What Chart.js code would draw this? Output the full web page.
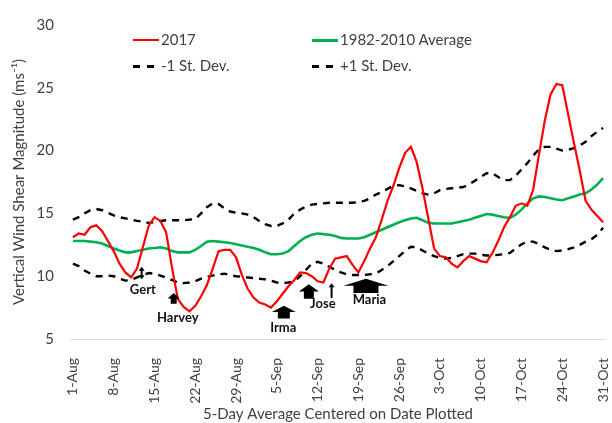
<!DOCTYPE html>
<html lang="en">
<head>
    <meta charset="UTF-8">
    <title>Vertical Wind Shear 2017</title>
    <script src="https://cdn.jsdelivr.net/npm/chart.js"></script>
    <style>
        body {
            margin: 0;
            padding: 0;
            background: #fff;
            font-family: 'Lato', sans-serif;
        }

        .wrap {
            position: relative;
            width: 612px;
            height: 423px;
        }

        canvas {
            position: absolute;
            left: 0;
            top: 0;
        }

        .leg {
            position: absolute;
            height: 18px;
            line-height: 18px;
            font-size: 15px;
            color: #404040;
            white-space: nowrap;
        }

        .leg i {
            display: inline-block;
            width: 26px;
            height: 2px;
            vertical-align: middle;
            margin-right: 2px;
            position: relative;
            top: -1px;
        }

        .leg i.dash {
            width: 21px;
            height: 3px;
            margin-right: 7px;
            background: repeating-linear-gradient(to right, #000 0 7px, transparent 7px 14px);
        }
    </style>
</head>
<body>
<div class="wrap">
    <canvas id="shear" width="612" height="423"></canvas>
    <div class="leg" style="left:133px; top:30px;"><i style="background:#ff0000"></i>2017</div>
    <div class="leg" style="left:312px; top:30px;"><i style="background:#00b050; height:3px"></i>1982-2010 Average</div>
    <div class="leg" style="left:133px; top:56px;"><i class="dash"></i>-1 St. Dev.</div>
    <div class="leg" style="left:312px; top:56px;"><i class="dash"></i>+1 St. Dev.</div>
</div>

<script>
    // 1 Aug .. 31 Oct, one value per day
    const months = ['Aug', 'Sep', 'Oct'];
    const monthDays = [31, 30, 31];

    const shear2017 = [
        13.1, 13.4, 13.3, 13.9, 14.05, 13.6, 12.8, 12.0, 11.0, 10.3,
        9.9, 10.6, 12.3, 14.0, 14.7, 14.4, 13.5, 10.7, 8.2, 7.55,
        7.2, 7.65, 8.4, 9.3, 10.6, 12.0, 12.1, 12.1, 11.5, 10.1,
        9.0, 8.3, 7.9, 7.75, 7.5, 8.0, 8.6, 9.2, 9.7, 10.3,
        10.25, 10.0, 9.6, 9.5, 10.6, 11.4, 11.5, 11.6, 10.9, 10.3,
        11.2, 12.2, 13.1, 14.5, 16.0, 17.2, 18.6, 19.8, 20.3, 19.1,
        17.0, 14.6, 12.2, 11.6, 11.5, 11.0, 10.7, 11.2, 11.6, 11.4,
        11.2, 11.1, 11.85, 12.8, 13.9, 14.7, 15.6, 15.8, 15.6, 16.9,
        19.7, 22.4, 24.5, 25.3, 25.2, 22.9, 20.6, 18.4, 16.0, 15.3,
        14.8, 14.3
    ];

    const shearAvg = [
        12.8, 12.8, 12.8, 12.75, 12.7, 12.6, 12.4, 12.2, 12.05, 11.9,
        11.9, 12.0, 12.1, 12.2, 12.25, 12.3, 12.2, 12.0, 11.9, 11.9,
        11.9, 12.1, 12.4, 12.75, 12.8, 12.75, 12.7, 12.65, 12.55, 12.45,
        12.35, 12.25, 12.1, 11.9, 11.75, 11.75, 11.8, 12.0, 12.4, 12.8,
        13.1, 13.3, 13.4, 13.35, 13.3, 13.2, 13.05, 13.0, 13.0, 13.0,
        13.1, 13.3, 13.5, 13.7, 13.9, 14.1, 14.3, 14.45, 14.6, 14.65,
        14.45, 14.25, 14.2, 14.2, 14.2, 14.2, 14.3, 14.4, 14.5, 14.65,
        14.8, 14.95, 14.9, 14.8, 14.7, 14.65, 14.9, 15.3, 15.8, 16.2,
        16.35, 16.3, 16.2, 16.1, 16.05, 16.2, 16.35, 16.5, 16.6, 16.9,
        17.3, 17.8
    ];

    const minusSD = [
        11.0, 10.8, 10.45, 10.2, 10.0, 10.0, 10.05, 10.0, 9.8, 9.65,
        9.7, 9.9, 10.1, 10.25, 10.2, 10.05, 9.9, 9.7, 9.5, 9.45,
        9.5, 9.6, 9.8, 9.95, 10.05, 10.15, 10.2, 10.1, 10.0, 9.95,
        9.9, 9.85, 9.8, 9.75, 9.65, 9.5, 9.45, 9.5, 9.6, 10.0,
        10.5, 11.0, 11.15, 11.0, 10.75, 10.5, 10.3, 10.15, 10.1, 10.1,
        10.1, 10.15, 10.2, 10.5, 10.8, 11.2, 11.6, 12.0, 12.35, 12.3,
        12.05, 11.8, 11.6, 11.45, 11.4, 11.45, 11.6, 11.75, 11.8, 11.8,
        11.7, 11.65, 11.65, 11.7, 11.75, 11.85, 12.2, 12.55, 12.75, 12.75,
        12.55, 12.3, 12.1, 12.0, 12.05, 12.15, 12.3, 12.5, 12.75, 12.95,
        13.3, 13.85
    ];

    const plusSD = [
        14.5, 14.7, 15.0, 15.25, 15.35, 15.25, 15.05, 14.85, 14.7, 14.6,
        14.5, 14.4, 14.35, 14.25, 14.3, 14.4, 14.45, 14.45, 14.45, 14.45,
        14.5, 14.55, 15.0, 15.5, 15.8, 15.75, 15.4, 15.15, 15.05, 15.0,
        14.9, 14.7, 14.4, 14.15, 14.0, 14.0, 14.2, 14.5, 15.0, 15.3,
        15.55, 15.7, 15.75, 15.8, 15.85, 15.85, 15.85, 15.85, 15.85, 15.9,
        16.0, 16.2, 16.5, 16.7, 16.95, 17.2, 17.25, 17.15, 17.0, 16.8,
        16.6, 16.5, 16.6, 16.85, 16.95, 17.0, 17.05, 17.1, 17.3, 17.6,
        17.9, 18.2, 18.2, 17.9, 17.65, 17.65, 18.0, 18.5, 19.0, 19.6,
        20.1, 20.3, 20.3, 20.15, 20.0, 20.05, 20.2, 20.4, 20.7, 21.15,
        21.5, 21.8
    ];

    const yTicks = [5, 10, 15, 20, 25, 30];

    // storms: day index, arrow top/bottom (in m/s), label position
    const storms = [
        { name: 'Gert', day: 11.8, top: 10.76, bottom: 9.75, kind: 'double', labelDay: 12.0, labelY: 8.89 },
        { name: 'Harvey', day: 17.3, top: 8.66, bottom: 7.8, kind: 'block', head: 12, shaft: 6, labelDay: 18.0, labelY: 6.71 },
        { name: 'Irma', day: 36.2, top: 7.65, bottom: 6.63, kind: 'block', head: 24, shaft: 12, labelDay: 36.1, labelY: 5.86 },
        { name: 'Jose', day: 40.5, top: 9.36, bottom: 8.2, kind: 'block', head: 20, shaft: 10, labelDay: 42.9, labelY: 7.78 },
        { name: '', day: 44.4, top: 9.44, bottom: 8.27, kind: 'thin' },
        { name: 'Maria', day: 50.3, top: 9.8, bottom: 8.66, kind: 'block', head: 45, shaft: 25, labelDay: 50.9, labelY: 8.11 }
    ];

    const days = [];
    months.forEach((m, i) => {
        for (let d = 1; d <= monthDays[i]; d++) days.push(d + '-' + m);
    });

    const stormPlugin = {
        id: 'storms',
        afterDatasetsDraw(chart) {
            const ctx = chart.ctx;
            const x = chart.scales.x, y = chart.scales.y;
            ctx.save();
            ctx.fillStyle = '#000';
            ctx.strokeStyle = '#000';
            storms.forEach(s => {
                const cx = x.getPixelForValue(s.day);
                const t = y.getPixelForValue(s.top);
                const b = y.getPixelForValue(s.bottom);
                if (s.kind === 'block') {
                    const hh = (b - t) * 0.5;
                    ctx.beginPath();
                    ctx.moveTo(cx, t);
                    ctx.lineTo(cx + s.head / 2, t + hh);
                    ctx.lineTo(cx + s.shaft / 2, t + hh);
                    ctx.lineTo(cx + s.shaft / 2, b);
                    ctx.lineTo(cx - s.shaft / 2, b);
                    ctx.lineTo(cx - s.shaft / 2, t + hh);
                    ctx.lineTo(cx - s.head / 2, t + hh);
                    ctx.closePath();
                    ctx.fill();
                } else {
                    ctx.lineWidth = 2;
                    ctx.beginPath();
                    ctx.moveTo(cx, t + 2);
                    ctx.lineTo(cx, s.kind === 'double' ? b - 2 : b);
                    ctx.stroke();
                    ctx.beginPath();
                    ctx.moveTo(cx, t);
                    ctx.lineTo(cx + 3, t + 4);
                    ctx.lineTo(cx - 3, t + 4);
                    ctx.closePath();
                    ctx.fill();
                    if (s.kind === 'double') {
                        ctx.beginPath();
                        ctx.moveTo(cx, b);
                        ctx.lineTo(cx + 3, b - 4);
                        ctx.lineTo(cx - 3, b - 4);
                        ctx.closePath();
                        ctx.fill();
                    }
                }
                if (s.name) {
                    ctx.font = 'bold 13px Lato';
                    ctx.textAlign = 'center';
                    ctx.textBaseline = 'middle';
                    ctx.fillStyle = '#111';
                    ctx.fillText(s.name, x.getPixelForValue(s.labelDay), y.getPixelForValue(s.labelY));
                    ctx.fillStyle = '#000';
                }
            });
            ctx.restore();
        }
    };

    Chart.defaults.font.family = 'Lato';
    Chart.defaults.font.size = 15;
    Chart.defaults.color = '#404040';

    const ctxShear = document.getElementById('shear').getContext('2d');
    new Chart(ctxShear, {
        type: 'line',
        data: {
            labels: days,
            datasets: [{
                label: '2017',
                data: shear2017,
                borderColor: '#ff0000',
                borderWidth: 2.2
            }, {
                label: '1982-2010 Average',
                data: shearAvg,
                borderColor: '#00b050',
                borderWidth: 2.6
            }, {
                label: '-1 St. Dev.',
                data: minusSD,
                borderColor: '#000',
                borderWidth: 2.4,
                borderDash: [7, 6]
            }, {
                label: '+1 St. Dev.',
                data: plusSD,
                borderColor: '#000',
                borderWidth: 2.4,
                borderDash: [7, 6]
            }]
        },
        options: {
            responsive: false,
            animation: false,
            layout: { padding: { top: 19, right: 6, left: 0, bottom: 0 } },
            elements: { point: { radius: 0 }, line: { tension: 0 } },
            plugins: {
                legend: { display: false },
                tooltip: { enabled: false }
            },
            scales: {
                x: {
                    offset: true,
                    grid: { display: false },
                    border: { display: false },
                    ticks: {
                        autoSkip: false,
                        minRotation: 90,
                        maxRotation: 90,
                        padding: 11,
                        font: { size: 14 },
                        callback: function (val, i) {
                            return i % 7 === 0 ? this.getLabelForValue(val) : '';
                        }
                    },
                    title: {
                        display: true,
                        text: '5-Day Average Centered on Date Plotted',
                        padding: { top: 0, bottom: 0 }
                    },
                    afterFit: s => {
                        s.height = 84;
                        s.paddingLeft = 0;
                        s.paddingRight = 0;
                    }
                },
                y: {
                    min: 5,
                    max: 30,
                    afterBuildTicks: s => { s.ticks = yTicks.map(v => ({ value: v })); },
                    grid: {
                        drawTicks: false,
                        color: c => c.tick && c.tick.value === 5 ? '#d9d9d9' : 'rgba(0,0,0,0)'
                    },
                    border: { display: false },
                    ticks: { padding: 16 },
                    title: {
                        display: true,
                        text: 'Vertical Wind Shear Magnitude (ms⁻¹)',
                        padding: { top: 10, bottom: 0 }
                    },
                    afterFit: s => { s.width = 70; }
                }
            }
        },
        plugins: [stormPlugin]
    });
</script>
</body>
</html>
